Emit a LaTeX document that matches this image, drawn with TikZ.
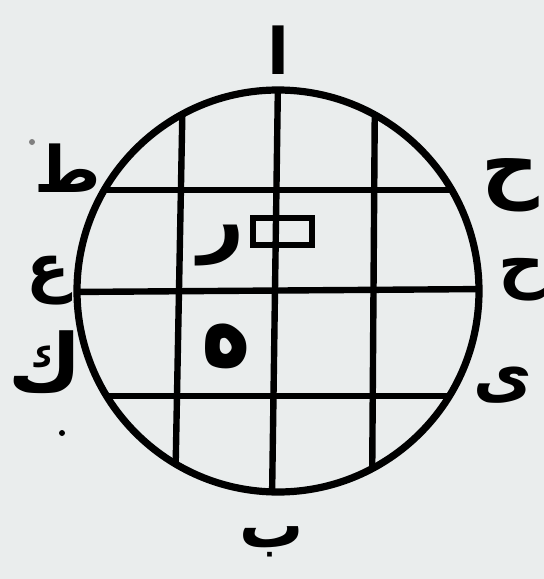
\documentclass[tikz,border=0pt]{standalone}
\usepackage{fontspec}
\usepackage{tikz}
\newfontfamily\arabicfont[Script=Arabic]{DejaVu Sans}
\TeXXeTstate=1
\definecolor{paper}{RGB}{234,237,237}
\tikzset{harf/.style={font=\arabicfont\bfseries\fontsize{32}{32}\selectfont, inner sep=0pt},
  bigharf/.style={font=\arabicfont\bfseries\fontsize{40}{40}\selectfont, inner sep=0pt}}

\begin{document}
\begin{tikzpicture}[x=0.5pt, y=-0.5pt, line width=3.2pt]
  \fill[paper] (0,0) rectangle (544,579);
  \useasboundingbox (0,0) rectangle (544,579);
  % grid inside the circle
  \begin{scope}
    \clip (278,291) circle[radius=201];
    \foreach \xa/\xb in {183/175,278/272,375/372}{
      \draw (\xa,80) -- (\xb,500);
    }
    \foreach \ya/\yb in {190/190,292/289,396/396}{
      \draw (70,\ya) -- (490,\yb);
    }
  \end{scope}
  \draw[line width=3.6pt] (278,291) circle[radius=201];
  \draw[line width=3pt] (253,218) rectangle (312,245);
  % letters round the circle
  \node[harf] (alif) at (278,50) {\beginR ا\endR};
  \node[harf] (ba) at (272,542) {\beginR ب\endR};
  \node[harf] (taa) at (68,168) {\beginR ط\endR};
  \node[harf] (ayn) at (48,280) {\beginR ع\endR};
  \node[bigharf] (kaf) at (45,362) {\beginR ك\endR};
  \node[bigharf] (haa) at (510,185) {\beginR ح\endR};
  \node[harf] (haab) at (522,280) {\beginR ح\endR};
  \node[harf] (yaa) at (503,385) {\beginR ى\endR};
  % letters in the cells
  \node[bigharf] (raa) at (222,246) {\beginR ر\endR};
  \node[bigharf] (hee) at (226,346) {\scalebox{1.05}[1.45]{\beginR ه\endR}};
  \fill[gray] (32,142) circle[radius=3];
  \fill (62,433) circle[radius=3];
\end{tikzpicture}
\end{document}
